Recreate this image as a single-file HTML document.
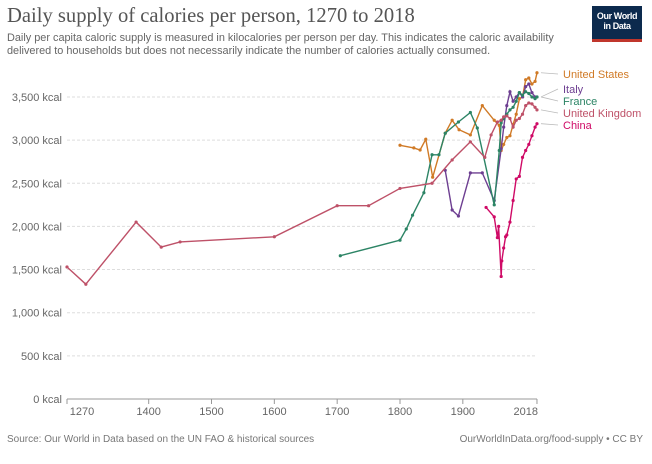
<!DOCTYPE html>
<html><head><meta charset="utf-8"><style>
body{margin:0;background:#fff;font-family:"Liberation Sans",sans-serif;}
#wrap{position:relative;width:652px;height:464px;overflow:hidden;background:#fff;}
</style></head><body>
<div id="wrap">
<div style="position:absolute;left:7px;top:5px;font-family:'Liberation Serif',serif;font-size:20.6px;color:#555;">Daily supply of calories per person, 1270 to 2018</div>
<div style="position:absolute;left:7px;top:32px;width:580px;font-size:10.9px;line-height:13px;color:#666;">Daily per capita caloric supply is measured in kilocalories per person per day. This indicates the caloric availability delivered to households but does not necessarily indicate the number of calories actually consumed.</div>
<div style="position:absolute;left:592px;top:6px;width:50px;height:36px;background:#0c2a4d;border-bottom:3px solid #c0362c;box-sizing:border-box;color:#fff;font-size:9px;font-weight:bold;line-height:10px;text-align:center;padding-top:5px;letter-spacing:-0.4px;">Our World<br>in Data</div>
<svg id="chart" width="652" height="464" style="position:absolute;left:0;top:0"></svg>
<div style="position:absolute;left:7px;top:434px;font-size:10px;color:#777;">Source: Our World in Data based on the UN FAO &amp; historical sources</div>
<div style="position:absolute;right:9px;top:434px;font-size:10px;color:#777;">OurWorldInData.org/food-supply • CC BY</div>
</div>
<script>
const yTicks=[0,500,1000,1500,2000,2500,3000,3500];
const xTicks=[1270,1400,1500,1600,1700,1800,1900,2018];
const ukYears=[1270,1300,1380,1420,1450,1600,1700,1750,1800,1851,1883,1912,1935,1945,1955,1961,1965,1970,1975,1980,1985,1990,1995,2000,2005,2010,2015,2018];
const ukVals=[1530,1330,2050,1760,1820,1880,2240,2240,2440,2500,2770,2980,2800,3060,3210,3230,3270,3280,3250,3150,3230,3250,3300,3400,3430,3420,3380,3350];
const usYears=[1800,1822,1832,1841,1852,1872,1883,1894,1912,1931,1950,1958,1961,1965,1970,1975,1980,1985,1990,1995,2000,2005,2010,2015,2018];
const usVals=[2940,2910,2885,3010,2570,3080,3230,3120,3060,3400,3230,3170,2880,2950,3030,3050,3180,3300,3480,3500,3700,3720,3650,3680,3780];
const frYears=[1705,1800,1810,1820,1838,1851,1862,1872,1893,1912,1923,1950,1958,1961,1965,1970,1975,1980,1985,1990,1995,2000,2005,2010,2015,2018];
const frVals=[1660,1840,1970,2130,2390,2830,2830,3080,3210,3320,3140,2250,2880,3200,3250,3300,3350,3380,3450,3550,3520,3560,3540,3500,3480,3500];
const itYears=[1872,1883,1893,1912,1931,1950,1961,1965,1970,1975,1980,1985,1990,1995,2000,2005,2010,2015,2018];
const itVals=[2650,2190,2120,2620,2620,2300,2900,3150,3400,3560,3450,3500,3550,3500,3620,3650,3550,3500,3500];
const cnYears=[1937,1950,1955,1957,1961,1962,1965,1968,1970,1975,1980,1985,1990,1995,2000,2005,2010,2015,2018];
const cnVals=[2220,2110,1870,2000,1420,1600,1750,1880,1900,2050,2300,2550,2580,2800,2880,2950,3050,3150,3190];
const series=[
 {name:'United States',color:'#d07a26',years:usYears,vals:usVals,ly:78},
 {name:'Italy',color:'#6d3e91',years:itYears,vals:itVals,ly:93},
 {name:'France',color:'#2c8465',years:frYears,vals:frVals,ly:105},
 {name:'United Kingdom',color:'#be5168',years:ukYears,vals:ukVals,ly:117},
 {name:'China',color:'#cf0a66',years:cnYears,vals:cnVals,ly:129}
];
const X=y=>67+(y-1270)*0.6283;
const Y=v=>399-v*0.0863;
const svg=document.getElementById('chart');
const NS='http://www.w3.org/2000/svg';
function mk(t,a){const e=document.createElementNS(NS,t);for(const k in a)e.setAttribute(k,a[k]);svg.appendChild(e);return e;}
yTicks.forEach(v=>{
 if(v>0){const g=mk('line',{x1:67,x2:537,y1:Y(v),y2:Y(v),stroke:'#ddd','stroke-dasharray':'3,2'});
 
 }
 const t=mk('text',{x:62,y:Y(v)+4,'text-anchor':'end','font-size':'11','fill':'#666','font-family':'Liberation Sans, sans-serif'});
 t.textContent=v.toLocaleString('en-US')+' kcal';
 
 
});
const ax=mk('line',{x1:67,x2:537,y1:399,y2:399,stroke:'#999'});


xTicks.forEach(yr=>{
 const tk=mk('line',{x1:X(yr),x2:X(yr),y1:399,y2:404,stroke:'#999'});
 
 
 const t=mk('text',{x:yr===1270?82:X(yr),y:415,'text-anchor':yr===2018?'end':'middle','font-size':'11','fill':'#666','font-family':'Liberation Sans, sans-serif'});
 if(yr===2018)t.setAttribute('x',X(yr)+1);
 t.textContent=yr;
 
 
});
series.forEach(s=>{
 const pts=s.years.map((y,i)=>X(y).toFixed(1)+','+Y(s.vals[i]).toFixed(1)).join(' ');
 const pl=mk('polyline',{points:pts,fill:'none',stroke:s.color,'stroke-width':1.4});
 
 
 s.years.forEach((y,i)=>{
  const c=mk('circle',{cx:X(y),cy:Y(s.vals[i]),r:1.6,fill:s.color});
  
  
 });
 const last=s.vals[s.vals.length-1];
 const cl=mk('line',{x1:541,x2:558,y1:Y(last),y2:s.ly-4,stroke:'#bbb','stroke-width':0.8});
 
 
 const t=mk('text',{x:563,y:s.ly,'font-size':'11','fill':s.color,'font-family':'Liberation Sans, sans-serif'});
 t.textContent=s.name;
 
 
});
</script>
</body></html>
